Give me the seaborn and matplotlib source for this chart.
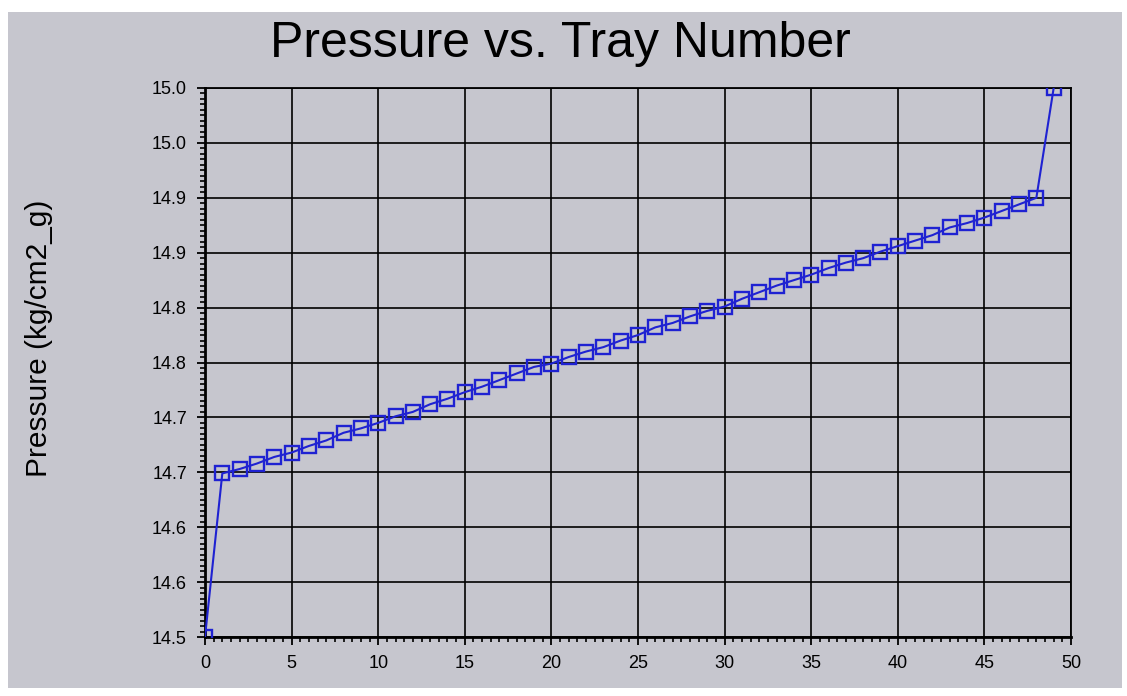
import matplotlib
matplotlib.use("Agg")
import matplotlib.pyplot as plt
from matplotlib.patches import Rectangle
from matplotlib.ticker import MultipleLocator, FixedLocator, FixedFormatter
import seaborn as sns
import pandas as pd

# Column pressure profile, tray 0 (top) to tray 49 (bottom)
tray_number = list(range(50))
pressure = [
    14.500, 14.649, 14.653, 14.658, 14.664, 14.668, 14.674, 14.679, 14.686, 14.690,
    14.695, 14.701, 14.705, 14.712, 14.717, 14.723, 14.728, 14.734, 14.740, 14.746,
    14.749, 14.755, 14.760, 14.764, 14.770, 14.775, 14.782, 14.786, 14.792, 14.797,
    14.801, 14.808, 14.814, 14.820, 14.825, 14.830, 14.836, 14.841, 14.845, 14.851,
    14.856, 14.861, 14.866, 14.873, 14.877, 14.882, 14.888, 14.894, 14.900, 15.000,
]
y_tick_values = [14.50, 14.55, 14.60, 14.65, 14.70, 14.75, 14.80, 14.85, 14.90, 14.95, 15.00]
y_tick_labels = ["14.5", "14.6", "14.6", "14.7", "14.7", "14.8", "14.8", "14.9", "14.9", "15.0", "15.0"]
x_tick_values = [0, 5, 10, 15, 20, 25, 30, 35, 40, 45, 50]

title = "Pressure vs. Tray Number"
y_label = "Pressure (kg/cm2_g)"

df = pd.DataFrame({"Tray": tray_number, "Pressure": pressure})

sns.set_style("white")
plt.rcParams["font.family"] = ["Liberation Sans", "DejaVu Sans"]

panel = "#c6c6ce"
blue = "#1f22d2"

W, H = 1127, 696
fig = plt.figure(figsize=(W / 100, H / 100), dpi=100, facecolor="white")
fig.patches.append(Rectangle((8 / W, 1 - 688 / H), (1122 - 8) / W, (688 - 12) / H,
                             transform=fig.transFigure, facecolor=panel,
                             edgecolor="none", zorder=-10))

ax = fig.add_axes([205 / W, 1 - 637 / H, (1071 - 205) / W, (637 - 88) / H])
ax.set_zorder(1)
ax.set_facecolor(panel)

sns.lineplot(data=df, x="Tray", y="Pressure", ax=ax, color=blue, linewidth=1.5,
             marker="s", markersize=10.5, markerfacecolor="none",
             markeredgecolor=blue, markeredgewidth=1.7, zorder=3)

ax.set_xlim(0, 50)
ax.set_ylim(14.5, 15.0)
ax.xaxis.set_major_locator(FixedLocator(x_tick_values))
ax.xaxis.set_minor_locator(MultipleLocator(0.5))
ax.yaxis.set_major_locator(FixedLocator(y_tick_values))
ax.yaxis.set_major_formatter(FixedFormatter(y_tick_labels))
ax.yaxis.set_minor_locator(MultipleLocator(0.005))

ax.grid(True, which="major", color="black", linewidth=1.2)
ax.set_axisbelow(True)
for side, sp in ax.spines.items():
    sp.set_visible(True)
    sp.set_color("black")
    sp.set_linewidth(2.0 if side in ("left", "bottom") else 1.3)

ax.tick_params(which="major", direction="out", length=6, width=1.3, color="black",
               labelsize=13, labelcolor="black", left=True, bottom=True)
ax.tick_params(which="minor", direction="out", length=3.5, width=1.2, color="black",
               left=True, bottom=True)
ax.tick_params(axis="y", which="major", pad=7)
ax.tick_params(axis="x", which="major", pad=7)

ax.set_xlabel("")
ax.set_ylabel("")
fig.text(39 / W, 1 - 338 / H, y_label, rotation=90, ha="center", va="center",
         fontsize=21.5, color="black")
fig.text(560 / W, 1 - 57 / H, title, ha="center", va="baseline",
         fontsize=36, color="black")

fig.savefig("out.png", dpi=100, facecolor=fig.get_facecolor())
